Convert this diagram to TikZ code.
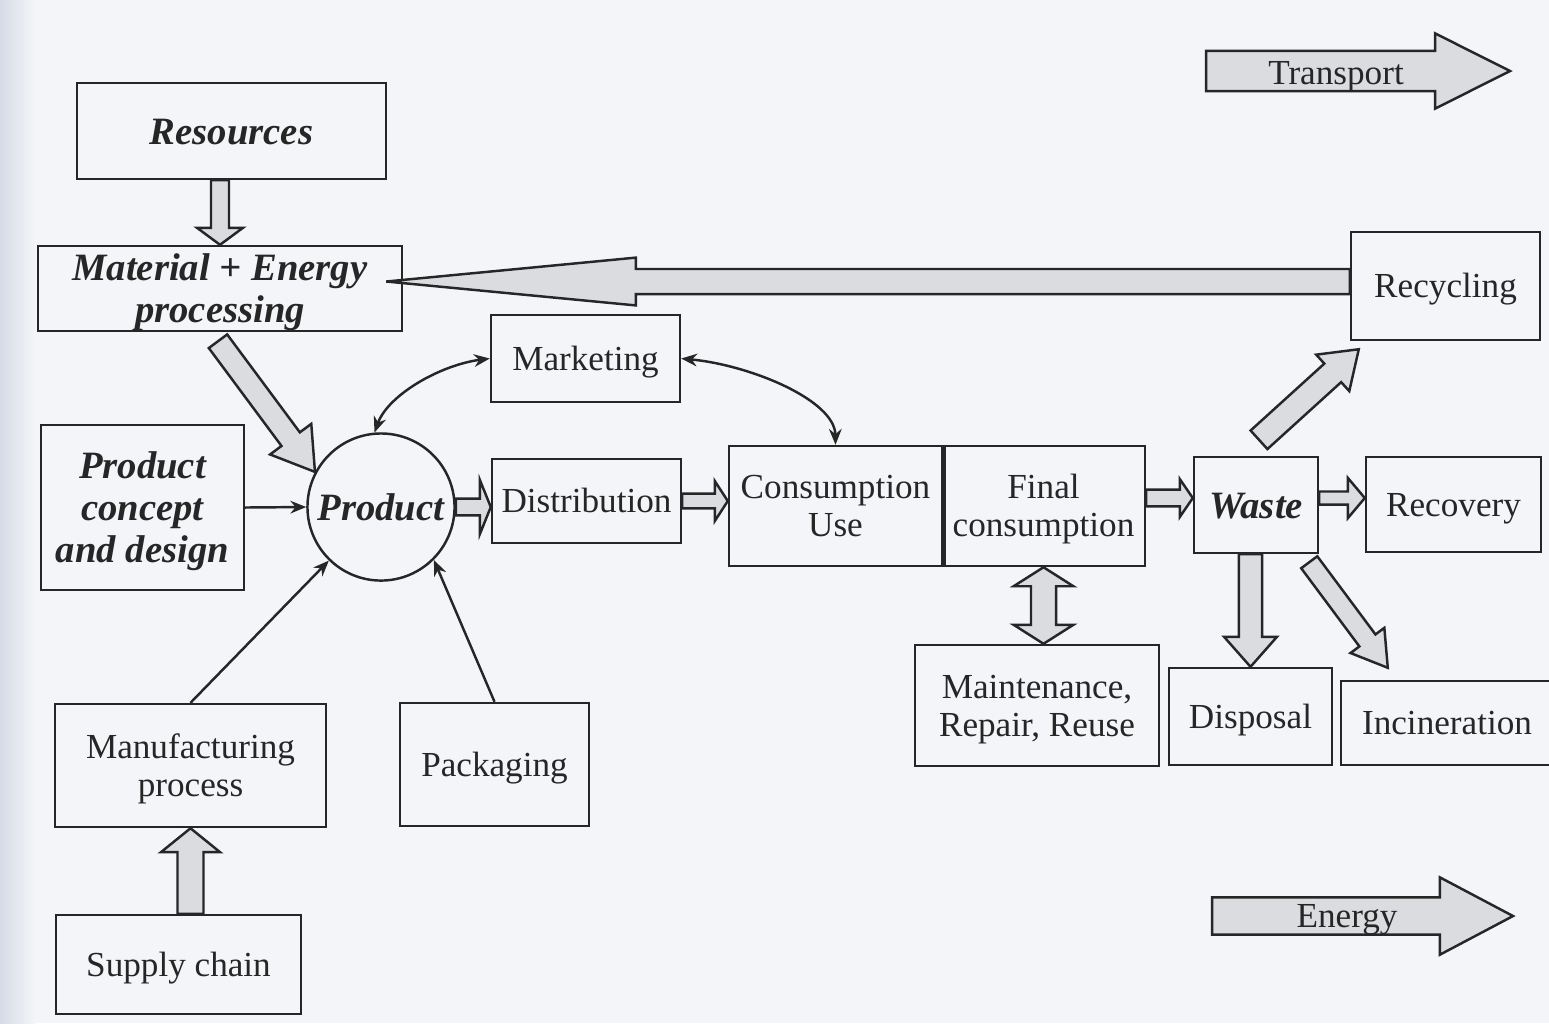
\documentclass[tikz,border=0pt]{standalone}
\usepackage{fontspec}
\setmainfont{Liberation Serif}
\usetikzlibrary{arrows.meta,calc}

\definecolor{bgc}{RGB}{243,245,248}
\definecolor{inkc}{RGB}{38,38,38}
\definecolor{arrfill}{RGB}{218,220,224}
\definecolor{edgec}{RGB}{214,220,230}

\newcommand\nf{\fontsize{10pt}{10.8pt}\selectfont}
\newcommand\bif{\fontsize{11pt}{12pt}\selectfont\bfseries\itshape}

\tikzset{
  box/.style={draw=inkc, line width=0.7pt, inner sep=0pt, align=center, font=\nf, text=inkc},
  bibox/.style={box, font=\bif},
  sz/.style 2 args={minimum width={#1*0.01cm}, minimum height={#2*0.01cm}},
  lone/.style={text height=6.8pt, text depth=0pt},
  ltwo/.style={text height=17.6pt, text depth=0pt},
  bone/.style={text height=7.5pt, text depth=0pt},
  btwo/.style={text height=19.5pt, text depth=0pt},
  bthree/.style={text height=31.5pt, text depth=0pt},
  blockarr/.style={draw=inkc, line width=0.7pt, fill=arrfill, line join=miter},
  thinarr/.style={draw=inkc, line width=0.7pt, -{Stealth[length=4.5pt,width=3.6pt]}},
  thinboth/.style={draw=inkc, line width=0.7pt, {Stealth[length=4.5pt,width=3.6pt]}-{Stealth[length=4.5pt,width=3.6pt]}},
}

% single block arrow: from, to, shaft half width, head half width, head length
\newcommand\blockarrow[5]{%
  \coordinate (ba-s) at (#1);
  \coordinate (ba-t) at (#2);
  \coordinate (ba-h) at ($(ba-t)!#5!(ba-s)$);
  \draw[blockarr] ($(ba-s)!#3!90:(ba-t)$) -- ($(ba-h)!#3!90:(ba-t)$) -- ($(ba-h)!#4!90:(ba-t)$)
    -- (ba-t) -- ($(ba-h)!#4!-90:(ba-t)$) -- ($(ba-h)!#3!-90:(ba-t)$) -- ($(ba-s)!#3!-90:(ba-t)$) -- cycle;
}
% double-headed block arrow
\newcommand\dblockarrow[5]{%
  \coordinate (ba-s) at (#1);
  \coordinate (ba-t) at (#2);
  \coordinate (ba-h) at ($(ba-t)!#5!(ba-s)$);
  \coordinate (ba-g) at ($(ba-s)!#5!(ba-t)$);
  \draw[blockarr] (ba-s) -- ($(ba-g)!#4!90:(ba-t)$) -- ($(ba-g)!#3!90:(ba-t)$) -- ($(ba-h)!#3!90:(ba-t)$)
    -- ($(ba-h)!#4!90:(ba-t)$) -- (ba-t) -- ($(ba-h)!#4!-90:(ba-t)$) -- ($(ba-h)!#3!-90:(ba-t)$)
    -- ($(ba-g)!#3!-90:(ba-t)$) -- ($(ba-g)!#4!-90:(ba-t)$) -- cycle;
}

\begin{document}
\begin{tikzpicture}[x=0.01cm, y=-0.01cm]
\useasboundingbox (0,0) rectangle (1549,1023);
\clip (0,0) rectangle (1549,1023);
\fill[bgc] (0,0) rectangle (1549,1023);
\shade[left color=edgec, right color=bgc] (0,0) rectangle (35,1023);

% boxes
\node[bibox, bone, sz={309}{96}] (res) at (231.5,131) {Resources};
\node[bibox, btwo, sz={364}{85}] (mat) at (220,288.5) {Material + Energy\\processing};
\node[box, lone, sz={189}{87}] (mkt) at (585.5,358.5) {Marketing};
\node[bibox, bthree, sz={203}{165}] (con) at (142.5,507.5) {Product\\concept\\and design};
\node[draw=inkc, line width=0.7pt, circle, minimum size=1.47cm, inner sep=0pt, font=\bif, text=inkc, bone] (prod) at (381,507) {Product};
\node[box, lone, sz={189}{84}] (dist) at (586.5,501) {Distribution};
\node[box, ltwo, sz={213}{120}] (cons) at (835.5,506) {Consumption\\Use};
\node[box, ltwo, sz={203}{120}] (fin) at (1043.5,506) {Final\\consumption};
\draw[inkc, line width=1.5pt] (cons.north east) -- (cons.south east);
\node[bibox, bone, sz={124}{96}] (waste) at (1256,505) {Waste};
\node[box, lone, sz={175}{95}] (recov) at (1453.5,504.5) {Recovery};
\node[box, lone, sz={189}{108}] (rec) at (1445.5,286) {Recycling};
\node[box, ltwo, sz={244}{121}] (maint) at (1037,705.5) {Maintenance,\\Repair, Reuse};
\node[box, lone, sz={163}{97}] (disp) at (1250.5,716.5) {Disposal};
\node[box, lone, sz={212}{84}] (inc) at (1447,723) {Incineration};
\node[box, ltwo, sz={271}{123}] (manu) at (190.5,765.5) {Manufacturing\\process};
\node[box, lone, sz={189}{123}] (pack) at (494.5,764.5) {Packaging};
\node[box, lone, sz={245}{99}] (sup) at (178.5,964.5) {Supply chain};

% thin connectors
\draw[thinarr] (con.east) -- (prod.west);
\draw[thinarr] (manu.north) -- (prod);
\draw[thinarr] (pack.north) -- (prod.-45);
\draw[thinboth] (mkt.west) .. controls (440,365) and (388,395) .. (prod.95);
\draw[thinboth] (mkt.east) .. controls (750,365) and (835,400) .. (cons.north);

% block arrows
\blockarrow{res.south -| mat.north}{mat.north}{2.56pt}{6.5pt}{4.8pt}
\coordinate (mattip) at ($(mat.east)+(-17,-7)$);
\blockarrow{rec.west |- mattip}{mattip}{3.56pt}{6.8pt}{71pt}
\coordinate (mps) at ($(mat.south)+(-2,9)$);
\blockarrow{mps}{prod.152}{3.25pt}{7.3pt}{11.6pt}
\blockarrow{prod.east}{dist.west |- prod.east}{2.4pt}{7.7pt}{3.1pt}
\blockarrow{dist.east}{cons.west |- dist.east}{2.1pt}{5.7pt}{3.7pt}
\coordinate (fws) at ($(fin.east)+(0,-8)$);
\blockarrow{fws}{waste.west |- fws}{2.4pt}{5.4pt}{3.7pt}
\coordinate (wrs) at ($(waste.east)+(0,-7)$);
\blockarrow{wrs}{recov.west |- wrs}{1.85pt}{5.7pt}{4.8pt}
\coordinate (wcs) at ($(waste.north)+(3,-16)$);
\coordinate (wct) at ($(rec.south west)+(9,8)$);
\blockarrow{wcs}{wct}{3.56pt}{7pt}{10pt}
\blockarrow{disp.north |- waste.south}{disp.north}{3.3pt}{7.5pt}{8.5pt}
\coordinate (wis) at ($(waste.south east)+(-10,8)$);
\coordinate (wit) at ($(inc.north west)+(48,-12)$);
\blockarrow{wis}{wit}{2.85pt}{6pt}{9.7pt}
\dblockarrow{fin.south}{maint.north -| fin.south}{3.56pt}{8.5pt}{5.4pt}
\blockarrow{sup.north -| manu.south}{manu.south}{3.7pt}{8.4pt}{6.8pt}

% legend arrows
\coordinate (trs) at (1206,71);
\coordinate (trt) at (1510,71);
\blockarrow{trs}{trt}{5.7pt}{10.7pt}{21.3pt}
\node[font=\nf, text=inkc, lone, inner sep=0pt] (trl) at (1336,73) {Transport};
\coordinate (ens) at (1212,916);
\coordinate (ent) at (1513,916);
\blockarrow{ens}{ent}{5.3pt}{11pt}{20.8pt}
\node[font=\nf, text=inkc, lone, inner sep=0pt] (enl) at (1347,916) {Energy};
\end{tikzpicture}
\end{document}
